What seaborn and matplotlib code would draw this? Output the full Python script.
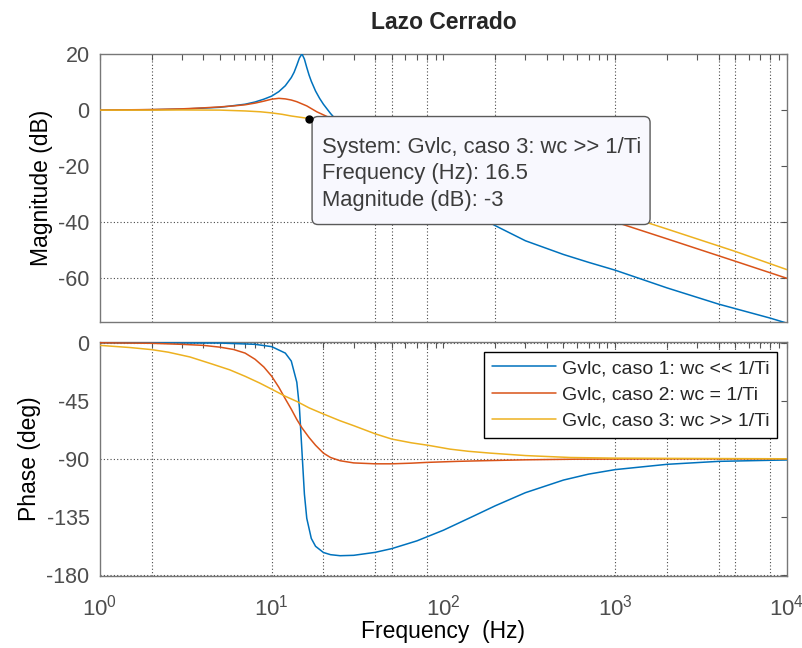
import pandas as pd
import seaborn as sns
import matplotlib.pyplot as plt
from matplotlib.lines import Line2D
from matplotlib.patches import FancyBboxPatch
from matplotlib.transforms import IdentityTransform
from matplotlib.ticker import LogLocator, NullFormatter

sns.set_style("white")
plt.rcParams["font.family"] = ["Liberation Sans", "DejaVu Sans"]
plt.rcParams["mathtext.fontset"] = "custom"
plt.rcParams["mathtext.rm"] = "Liberation Sans"
plt.rcParams["mathtext.it"] = "Liberation Sans:italic"
plt.rcParams["axes.unicode_minus"] = False

# --- data ---
labels = ["Gvlc, caso 1: wc << 1/Ti", "Gvlc, caso 2: wc = 1/Ti", "Gvlc, caso 3: wc >> 1/Ti"]
colors = ["#0072BD", "#D95319", "#EDB120"]

# magnitude (dB)
mag1_f = [1, 2, 3, 5, 7, 8, 9, 10, 11, 12, 13, 13.5, 14, 14.5, 15, 15.5, 16, 16.5, 17, 18, 19, 20,
          22, 24, 27, 30, 35, 40, 50, 70, 100, 150, 200, 300, 500, 700, 1000, 2000, 4000, 8000, 10000]
mag1_db = [0, 0.16, 0.35, 1.0, 2.1, 2.9, 3.9, 5.0, 6.6, 8.7, 11.6, 13.5, 16.0, 18.6, 20.05, 18.2,
           15.2, 12.5, 10.3, 6.8, 4.2, 2.1, -1.2, -3.8, -6.9, -9.4, -12.7, -15.4, -19.6, -25.5,
           -31.2, -36.9, -41.2, -46.6, -51.5, -54.3, -57.1, -63.4, -69.2, -74.2, -76.0]
mag2_f = [1, 2, 3, 4, 5, 6, 7, 8, 9, 10, 11, 12, 13, 14, 16, 18.3, 20.5, 23.4, 27,
          30, 40, 50, 70, 100, 200, 500, 1000, 2000, 5000, 10000]
mag2_db = [0, 0.2, 0.45, 0.8, 1.15, 1.5, 1.9, 2.5, 3.2, 3.9, 4.2, 4.0, 3.6, 3.0, 1.5, -0.6, -2.0,
           -3.6, -5.3, -6.5, -9.8, -12.3, -15.5, -19.5, -25.6, -33.7, -39.9, -45.9, -53.9, -60.0]
mag3_f = [1, 2, 3, 5, 7, 8.6, 10, 11.5, 13, 16.5, 20, 25, 30, 40, 50, 70, 100, 150, 200, 300,
          500, 1000, 1550, 2000, 5000, 10000]
mag3_db = [0, 0, 0.05, 0, -0.3, -0.6, -1.0, -1.5, -2.1, -3.0, -4.0, -5.4, -6.6, -8.8, -10.5,
           -13.5, -16.5, -20.0, -22.5, -26.3, -30.6, -36.5, -40.2, -42.4, -50.4, -56.9]

# phase (deg)
ph1_f = [1, 5, 8, 10, 12, 13, 14, 14.5, 15, 15.5, 16, 17, 18, 20, 22, 25, 30, 40, 50, 70, 100,
         150, 200, 300, 500, 700, 1000, 2000, 4000, 10000]
ph1_deg = [0, -0.2, -1.2, -3.0, -8.0, -14.2, -30.6, -50.3, -84.3, -117.4, -136.2, -151.8, -157.9,
           -162.7, -164.4, -165.2, -164.9, -162.6, -159.7, -153.7, -145.4, -134.4, -126.5, -116.3,
           -106.5, -101.9, -98.4, -94.3, -92.0, -90.9]
ph2_f = [1, 2, 3, 4, 5, 6, 7, 8, 9, 10, 11, 12, 13, 14, 15, 16.5, 18, 20, 22, 25, 30, 40, 50,
         65, 80, 120, 170, 300, 600, 2000, 10000]
ph2_deg = [0, -0.4, -1.2, -2.0, -3.4, -5.2, -8.0, -12.8, -18.8, -26, -34.5, -43.5, -51.5, -59.5,
           -66, -73.5, -79.5, -85.6, -89, -91.5, -93.2, -93.9, -93.9, -93.4, -92.8, -92, -91.5,
           -90.8, -90.3, -90.05, -90]
ph3_f = [1, 1.5, 2, 2.5, 3.34, 4.5, 5.7, 7, 8.5, 10, 12, 14, 16.5, 19.8, 25, 30, 40, 50, 65, 82,
         109, 140, 187, 300, 548, 1000, 2170, 10000]
ph3_deg = [-2, -3.7, -5.3, -7.3, -11.0, -16.5, -21, -26, -31.2, -36, -41.5, -45.5, -50.5, -55,
           -60.5, -64.3, -70.6, -74.7, -77.6, -79.6, -82.5, -84.2, -85.6, -87.5, -89, -89.5,
           -89.7, -90]

# datatip
tip_freq = 16.5
tip_mag = -3.0


def long_df(freqs, vals, col):
    parts = []
    for name, f, v in zip(labels, freqs, vals):
        parts.append(pd.DataFrame({"freq": f, col: v, "sistema": name}))
    return pd.concat(parts, ignore_index=True)


mag_df = long_df([mag1_f, mag2_f, mag3_f], [mag1_db, mag2_db, mag3_db], "mag")
ph_df = long_df([ph1_f, ph2_f, ph3_f], [ph1_deg, ph2_deg, ph3_deg], "phase")

fig = plt.figure(figsize=(8.03, 6.48), dpi=100)
ax1 = fig.add_axes([0.1245, 0.503, 0.8555, 0.4136])
ax2 = fig.add_axes([0.1245, 0.111, 0.8555, 0.361])

sns.lineplot(data=mag_df, x="freq", y="mag", hue="sistema", hue_order=labels, palette=colors,
             estimator=None, lw=1.1, ax=ax1, legend=False, zorder=3)
sns.lineplot(data=ph_df, x="freq", y="phase", hue="sistema", hue_order=labels, palette=colors,
             estimator=None, lw=1.1, ax=ax2, legend=False, zorder=3)

grid_kw = dict(color="#4a4a4a", lw=0.8, ls=(0, (1, 2)), zorder=1)
# only the grid lines that survive in the reference image
for x in [2, 10, 40, 50, 80, 200, 1000, 4000, 5000, 8000]:
    ax1.axvline(x, **grid_kw)
for y in [-40, -60]:
    ax1.axhline(y, **grid_kw)
for x in [2, 10, 20, 40, 50, 80, 1000, 2000, 4000, 5000, 8000]:
    ax2.axvline(x, **grid_kw)
for y in [0, -90, -180]:
    ax2.axhline(y, **grid_kw)

for ax in (ax1, ax2):
    ax.set_xscale("log")
    ax.set_xlim(1, 1e4)
    ax.xaxis.set_major_locator(LogLocator(base=10))
    ax.xaxis.set_minor_locator(LogLocator(base=10, subs=range(2, 10)))
    ax.xaxis.set_minor_formatter(NullFormatter())
    ax.tick_params(which="both", direction="in", top=True, right=True, length=4,
                   color="#555555", labelcolor="#4d4d4d", width=0.8)
    ax.tick_params(axis="y", labelsize=15.5, pad=7.5)
    ax.tick_params(axis="x", labelsize=16, pad=13)
    for s in ax.spines.values():
        s.set_color("#777777")
        s.set_linewidth(1.0)
    ax.set_xlabel("")

ax1.tick_params(labelbottom=False)
ax1.set_ylim(-75.6, 20)
ax1.set_yticks([-60, -40, -20, 0, 20])
ax2.set_ylim(-181, 0.5)
ax2.set_yticks([-180, -135, -90, -45, 0])

ax1.set_ylabel("Magnitude (dB)", fontsize=16.5, color="black")
ax2.set_ylabel("Phase (deg)", fontsize=16.5, color="black")
ax2.set_xlabel("Frequency  (Hz)", fontsize=16.5, color="black", labelpad=0)
ax1.set_title("Lazo Cerrado", fontsize=16.5, fontweight="bold", pad=18)

# datatip: marker, rounded box and text
ax1.plot([tip_freq], [tip_mag], "o", color="black", ms=5, zorder=12)
px, py = ax1.transData.transform((tip_freq, tip_mag))
box = FancyBboxPatch((px + 3, py - 106), 338, 108, boxstyle="round,pad=0,rounding_size=6",
                     fc="#f8f8fe", ec="#5a5a5a", lw=1.0, transform=IdentityTransform(),
                     zorder=9, clip_on=False)
ax1.add_artist(box)
tip_text = (f"System: {labels[2]}\nFrequency (Hz): {tip_freq}\n"
            f"Magnitude (dB): {tip_mag:.0f}")
ax1.annotate(tip_text, xy=(tip_freq, tip_mag), xytext=(13, -18), textcoords="offset pixels",
             ha="left", va="top", fontsize=15.8, color="#3c3c3c", linespacing=1.36, zorder=10)

handles = [Line2D([], [], color=c, lw=1.1) for c in colors]
leg = ax2.legend(handles, labels, loc="upper right", fontsize=14, frameon=True, fancybox=False,
                 edgecolor="black", framealpha=1, handlelength=3.3, handletextpad=0.3,
                 borderaxespad=0.5, labelspacing=0.45)
leg.get_frame().set_linewidth(1.0)

fig.savefig("out.png", dpi=100)
